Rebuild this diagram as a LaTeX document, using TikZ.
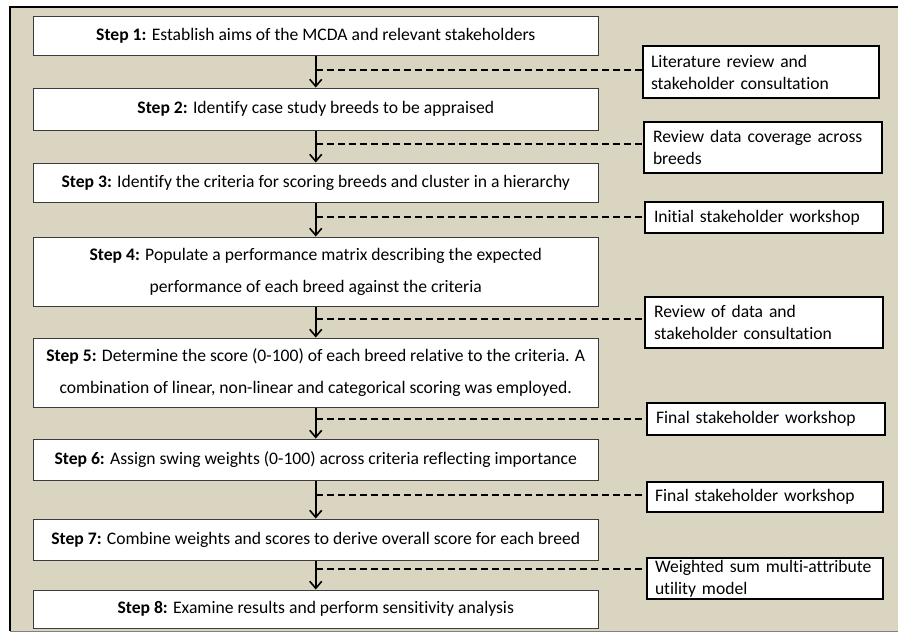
\documentclass[tikz,border=0pt]{standalone}
\usepackage{fontspec}
\setmainfont[RawFeature=-liga]{Carlito}
\usetikzlibrary{arrows.meta}
\definecolor{bgbeige}{RGB}{218,213,193}
\definecolor{stepedge}{RGB}{60,60,60}
\begin{document}
\begin{tikzpicture}[x=1pt,y=-1pt,
  stepbox/.style={draw=stepedge,line width=1pt,fill=white,minimum width=564.5pt,inner sep=0pt,align=center,font=\fontsize{17.6}{32}\selectfont},
  notebox/.style={draw=black,line width=2pt,fill=white,minimum width=236pt,inner xsep=8pt,inner ysep=0pt,align=left,anchor=west,text width=220pt,font=\fontsize{17.6}{22}\selectfont},
  flow/.style={line width=1.6pt,-{Straight Barb[length=7pt,width=12pt,line width=1.6pt]}},
  link/.style={line width=1.6pt,dash pattern=on 7pt off 4pt}
]
\useasboundingbox (0,0) rectangle (898,633);
\fill[white] (0,0) rectangle (898,633);
\fill[bgbeige] (10,7) rectangle (898,631);
\draw[line width=2pt,black] (10,631) -- (10,7) -- (898,7);
\draw[line width=1pt,gray] (10,631) -- (898,631);

% step boxes
\node[stepbox,minimum height=39pt] (s1) at (315.75,35.5) {\textbf{Step 1:} Establish aims of the MCDA and relevant stakeholders};
\node[stepbox,minimum height=42pt] (s2) at (315.75,109) {\textbf{Step 2:} Identify case study breeds to be appraised};
\node[stepbox,minimum height=39pt] (s3) at (315.75,182.5) {\textbf{Step 3:} Identify the criteria for scoring breeds and cluster in a hierarchy};
\node[stepbox,minimum height=69pt] (s4) at (315.75,271.5) {\textbf{Step 4:} Populate a performance matrix describing the expected\\performance of each breed against the criteria};
\node[stepbox,minimum height=69pt] (s5) at (315.75,372.5) {\textbf{Step 5:} Determine the score (0-100) of each breed relative to the criteria. A\\combination of linear, non-linear and categorical scoring was employed.};
\node[stepbox,minimum height=41pt] (s6) at (315.75,459.5) {\textbf{Step 6:} Assign swing weights (0-100) across criteria reflecting importance};
\node[stepbox,minimum height=41pt] (s7) at (315.75,539.5) {\textbf{Step 7:} Combine weights and scores to derive overall score for each breed};
\node[stepbox,minimum height=38pt] (s8) at (315.75,609) {\textbf{Step 8:} Examine results and perform sensitivity analysis};

% note boxes
\node[notebox,minimum height=52pt] (r1) at (642,72) {Literature review and\\stakeholder consultation};
\node[notebox,minimum height=51pt,minimum width=238pt] (r2) at (643,147.5) {Review data coverage across\\breeds};
\node[notebox,minimum height=31pt,minimum width=238pt] (r3) at (644,217.5) {Initial stakeholder workshop};
\node[notebox,minimum height=51pt,minimum width=238pt] (r4) at (644,322.5) {Review of data and\\stakeholder consultation};
\node[notebox,minimum height=32pt,minimum width=238pt] (r5) at (646,419) {Final stakeholder workshop};
\node[notebox,minimum height=30pt] (r6) at (646,497) {Final stakeholder workshop};
\node[notebox,minimum height=41pt] (r7) at (646,578.5) {Weighted sum multi-attribute\\utility model};

% flow arrows
\draw[flow] (s1) -- (s2);
\draw[flow] (s2) -- (s3);
\draw[flow] (s3) -- (s4);
\draw[flow] (s4) -- (s5);
\draw[flow] (s5) -- (s6);
\draw[flow] (s6) -- (s7);
\draw[flow] (s7) -- (s8);

% junctions and dashed links
\coordinate (j1) at (315.75,70);
\coordinate (j2) at (315.75,144);
\coordinate (j3) at (315.75,217);
\coordinate (j4) at (315.75,319);
\coordinate (j5) at (315.75,419);
\coordinate (j6) at (315.75,495);
\coordinate (j7) at (315.75,569);
\draw[link] (j1) -- (j1 -| r1.west);
\draw[link] (j2) -- (j2 -| r2.west);
\draw[link] (j3) -- (j3 -| r3.west);
\draw[link] (j4) -- (j4 -| r4.west);
\draw[link] (j5) -- (j5 -| r5.west);
\draw[link] (j6) -- (j6 -| r6.west);
\draw[link] (j7) -- (j7 -| r7.west);
\end{tikzpicture}
\end{document}
